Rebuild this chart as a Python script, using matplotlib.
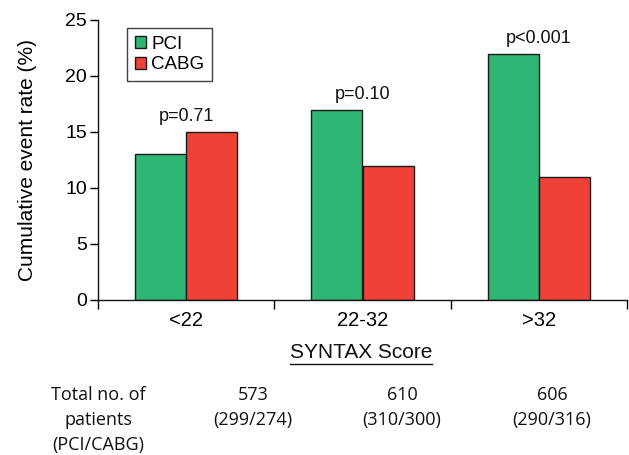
import matplotlib
matplotlib.use("Agg")
import matplotlib.pyplot as plt
from matplotlib.lines import Line2D
import numpy as np

categories = ["<22", "22-32", ">32"]
pci = [13, 17, 22]
cabg = [15, 12, 11]
pvals = ["p=0.71", "p=0.10", "p<0.001"]
totals = ["573", "610", "606"]
splits = ["(299/274)", "(310/300)", "(290/316)"]
row_label = ["Total no. of", "patients", "(PCI/CABG)"]
yticks = [0, 5, 10, 15, 20, 25]

GREEN = "#2db674"
RED = "#ef4136"
EDGE = "#1a1a1a"
SANS = "Liberation Sans"
TABLE = "Open Sans"

W, H = 629, 455
fig = plt.figure(figsize=(W / 100, H / 100), dpi=100)
ax = fig.add_axes([98 / W, 1 - 300 / H, 529 / W, 280 / H])

x = np.arange(len(categories))
bw = 0.29
ax.bar(x - bw / 2, pci, bw, color=GREEN, edgecolor=EDGE, linewidth=1.0, label="PCI")
ax.bar(x + bw / 2, cabg, bw, color=RED, edgecolor=EDGE, linewidth=1.0, label="CABG")

for xi, a, b, p in zip(x, pci, cabg, pvals):
    ax.text(xi, max(a, b) + 0.6, p, ha="center", va="bottom",
            fontsize=13, family=SANS, color="#111111")

ax.set_xlim(-0.5, 2.5)
ax.set_ylim(0, 25)
ax.set_yticks(yticks)
ax.set_yticklabels([str(v) for v in yticks], fontsize=14, family=SANS)
ax.set_xticks(x)
ax.set_xticklabels(categories, fontsize=14.5, family=SANS)
ax.set_xticks(np.arange(-0.5, 2.6, 1.0), minor=True)
ax.tick_params(axis="x", which="major", length=0, pad=8)
ax.tick_params(axis="x", which="minor", length=6.5, width=1.0, direction="out")
ax.tick_params(axis="y", length=6, width=1.0, direction="out", pad=2)

for s in ["top", "right"]:
    ax.spines[s].set_visible(False)
for s in ["left", "bottom"]:
    ax.spines[s].set_linewidth(1.0)
    ax.spines[s].set_color("#111111")

ax.set_ylabel("Cumulative event rate (%)", fontsize=15, family=SANS, labelpad=20)

leg = ax.legend(loc="upper left", bbox_to_anchor=(0.055, 0.971),
                fancybox=False, frameon=True, edgecolor="#111111",
                prop={"family": SANS, "size": 13.5},
                handlelength=0.6, handleheight=0.6, handletextpad=0.3,
                borderpad=0.4, labelspacing=0.2, borderaxespad=0)
leg.get_frame().set_linewidth(1.0)

# SYNTAX Score underlined title
t = fig.text(361 / W, 1 - 353 / H, "SYNTAX Score", ha="center", va="center",
             fontsize=15, family=SANS, color="#111111")
fig.canvas.draw()
bb = t.get_window_extent()
yline = bb.y0 - 1
fig.add_artist(Line2D([bb.x0 / W, bb.x1 / W], [yline / H, yline / H],
                      color="#111111", linewidth=1.0, transform=fig.transFigure))

# table below
rows_y = [395, 420, 445]
for lab, yy in zip(row_label, rows_y):
    fig.text(98 / W, 1 - yy / H, lab, ha="center", va="center",
             fontsize=13, family=TABLE, color="#111111")
cols_x = [253, 402, 552]
for cx, tot, sp in zip(cols_x, totals, splits):
    fig.text(cx / W, 1 - rows_y[0] / H, tot, ha="center", va="center",
             fontsize=13, family=TABLE, color="#111111")
    fig.text(cx / W, 1 - rows_y[1] / H, sp, ha="center", va="center",
             fontsize=13, family=TABLE, color="#111111")

fig.savefig("out.png", dpi=100)
